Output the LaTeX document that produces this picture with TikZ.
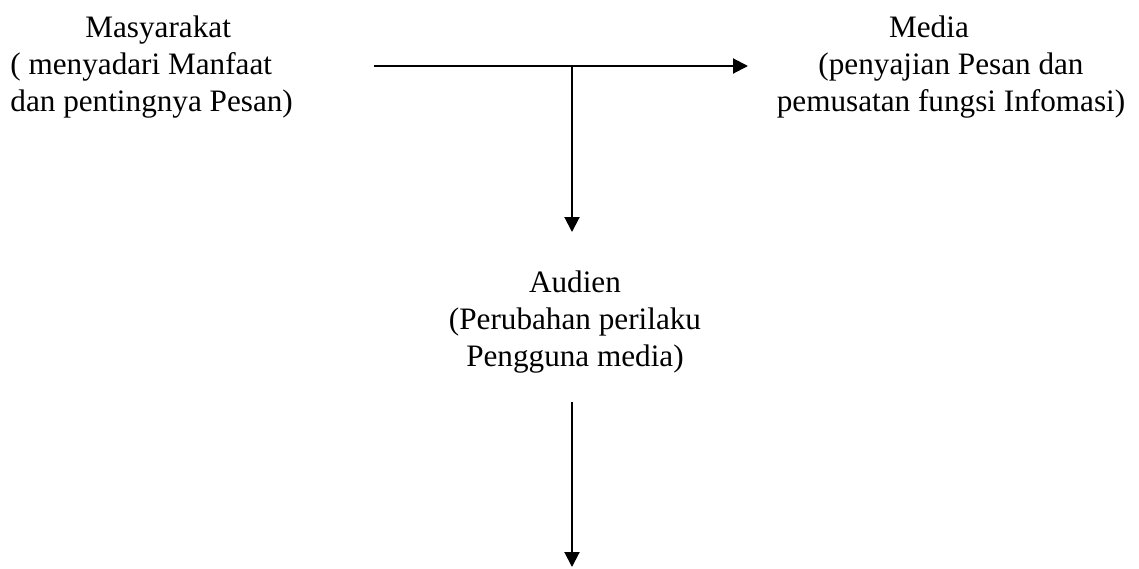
\documentclass[tikz,border=0pt]{standalone}
\usepackage{fontspec}
\setmainfont{Liberation Serif}
\usetikzlibrary{arrows.meta}
\tikzset{
  teks/.style={inner sep=0pt, font=\fontsize{15.6}{18.5}\selectfont},
  panah/.style={line width=1pt, -{Triangle[length=7.5pt,width=7.5pt]}}
}
\begin{document}
\begin{tikzpicture}[x=0.5pt,y=-0.5pt]
                \useasboundingbox (0,0) rectangle (1139,568);
                \node[teks,align=left,anchor=west] (masyarakat) at (10,67) {\hspace*{37.5pt}Masyarakat\\( menyadari Manfaat\\dan pentingnya Pesan)};
                \node[teks,align=center] (media) at (951,67) {Media\hspace*{22pt}\\(penyajian Pesan dan\\pemusatan fungsi Infomasi)};
                \node[teks,align=center] (audien) at (575,322) {Audien\\(Perubahan perilaku\\Pengguna media)};
                \coordinate (awal) at (374,66);
                \coordinate (ujung) at (748,66);
                \coordinate (cabang) at (572,66);
                \coordinate (atas) at (572,232);
                \coordinate (bawah) at (572,402);
                \coordinate (akhir) at (572,567);
                \draw[panah] (awal) -- (ujung);
                \draw[panah] (cabang) -- (atas);
                \draw[panah] (bawah) -- (akhir);
            \end{tikzpicture}
\end{document}
